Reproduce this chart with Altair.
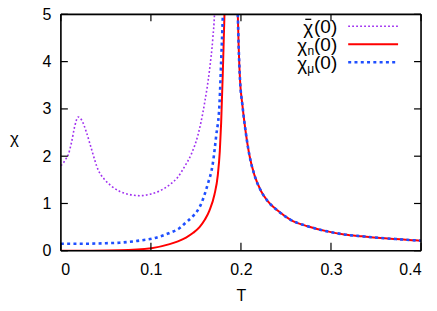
import altair as alt
import pandas as pd

# ---- data ----
T_purple = [0, 0.0026, 0.005, 0.008, 0.0118, 0.0155, 0.0192, 0.0229, 0.0285, 0.034, 0.0414,
            0.048, 0.056, 0.065, 0.076, 0.0875, 0.100, 0.110, 0.121, 0.130, 0.1374, 0.145,
            0.152, 0.1596, 0.165, 0.1688, 0.1706, 0.1715]
chi_purple = [1.80, 1.85, 1.93, 2.02, 2.29, 2.64, 2.83, 2.77, 2.50, 2.15, 1.71,
              1.52, 1.37, 1.26, 1.19, 1.165, 1.20, 1.27, 1.40, 1.56, 1.78, 2.05,
              2.43, 3.12, 3.81, 4.50, 5.00, 5.50]

T_blue_left = [0, 0.03, 0.05, 0.065, 0.085, 0.102, 0.121, 0.132, 0.139, 0.147, 0.154, 0.163,
               0.1688, 0.1725, 0.1762, 0.178, 0.1799, 0.181]
chi_blue_left = [0.15, 0.15, 0.16, 0.17, 0.21, 0.26, 0.38, 0.48, 0.60, 0.74, 0.92, 1.40,
                 1.85, 2.43, 3.12, 4.00, 5.00, 5.80]

T_red_left = [0, 0.03, 0.065, 0.1005, 0.1208, 0.130, 0.139, 0.147, 0.154, 0.160, 0.165,
              0.1706, 0.1743, 0.1765, 0.178, 0.1799, 0.1817, 0.183]
chi_red_left = [0.0, 0.002, 0.01, 0.055, 0.14, 0.20, 0.28, 0.38, 0.50, 0.66, 0.85,
                1.19, 1.60, 2.10, 2.70, 3.80, 5.00, 5.80]

T_right = [0.1955, 0.1965, 0.1975, 0.199, 0.2015, 0.2039, 0.2094, 0.215, 0.2224, 0.2297,
           0.2408, 0.2556, 0.274, 0.296, 0.3147, 0.335, 0.355, 0.372, 0.390, 0.400]
chi_right = [5.80, 5.00, 4.30, 3.60, 3.10, 2.71, 2.02, 1.60, 1.26, 1.05,
             0.85, 0.65, 0.52, 0.41, 0.345, 0.305, 0.27, 0.248, 0.225, 0.213]

x_ticks = [0, 0.1, 0.2, 0.3, 0.4]
y_ticks = [0, 1, 2, 3, 4, 5]

PURPLE = "#a030f0"
RED = "#ff0000"
BLUE = "#1f4fff"
FONT = "Liberation Sans"

W, H = 361, 237

def seg(T, c, name):
    return pd.DataFrame({"T": T, "chi": c, "seg": name})

purple_df = seg(T_purple, chi_purple, "p")
red_df = pd.concat([seg(T_red_left, chi_red_left, "L"), seg(T_right, chi_right, "R")])
blue_df = pd.concat([seg(T_blue_left, chi_blue_left, "L"), seg(T_right, chi_right, "R")])

xscale = alt.Scale(domain=[0, 0.4], nice=False, zero=False)
yscale = alt.Scale(domain=[0, 5], nice=False, zero=False)

xaxis = alt.Axis(values=x_ticks, ticks=False, domain=False, grid=False,
                 labelFontSize=16, labelFont=FONT, labelColor="black", labelPadding=11,
                 title="T", titleFontSize=16, titleFont=FONT, titleFontWeight="normal",
                 titleColor="black", titlePadding=10,
                 labelExpr="datum.value == 0 ? '0' : format(datum.value, '.1f')")
yaxis = alt.Axis(values=y_ticks, format="d", ticks=False, domain=False, grid=False,
                 labelFontSize=16, labelFont=FONT, labelColor="black", labelPadding=10,
                 title="χ", titleFontSize=17, titleFont=FONT, titleFontWeight="normal",
                 titleColor="black", titleAngle=0, titleAlign="center", titleBaseline="middle",
                 titleX=-47, titleY=124)

X = alt.X("T:Q", scale=xscale, axis=xaxis)
Y = alt.Y("chi:Q", scale=yscale, axis=yaxis)

def line(df, color, width, dash=None):
    kw = dict(color=color, strokeWidth=width, clip=True, interpolate="monotone")
    if dash:
        kw["strokeDash"] = dash
    return alt.Chart(df).mark_line(**kw).encode(x=X, y=Y, detail="seg:N")

purple = line(purple_df, PURPLE, 1.6, [1.8, 2.2])
red = line(red_df, RED, 2)
blue = line(blue_df, BLUE, 2.6, [3, 3.3])

xt = pd.DataFrame({"T": x_ticks})
yt = pd.DataFrame({"chi": y_ticks})
tick_kw = dict(color="black", strokeWidth=1.2)
tb = alt.Chart(xt).mark_rule(**tick_kw).encode(x=X, y=alt.value(H), y2=alt.value(H - 8))
tt = alt.Chart(xt).mark_rule(**tick_kw).encode(x=X, y=alt.value(0), y2=alt.value(7))
tl = alt.Chart(yt).mark_rule(**tick_kw).encode(y=Y, x=alt.value(0), x2=alt.value(7))
tr = alt.Chart(yt).mark_rule(**tick_kw).encode(y=Y, x=alt.value(W), x2=alt.value(W - 7))

one = pd.DataFrame({"a": [0]})
frame_kw = dict(color="black", strokeWidth=1.6)
frame = [
    alt.Chart(one).mark_rule(**frame_kw).encode(x=alt.value(0), x2=alt.value(W), y=alt.value(0)),
    alt.Chart(one).mark_rule(**frame_kw).encode(x=alt.value(0), x2=alt.value(W), y=alt.value(H)),
    alt.Chart(one).mark_rule(**frame_kw).encode(x=alt.value(0), y=alt.value(0), y2=alt.value(H)),
    alt.Chart(one).mark_rule(**frame_kw).encode(x=alt.value(W), y=alt.value(0), y2=alt.value(H)),
]

# ---- legend (drawn by hand to allow subscripts) ----
leg_rows = [12, 30, 48]
leg_colors = [PURPLE, RED, BLUE]
leg_widths = [1.6, 2, 2.6]
leg_dash = [[1.8, 2.2], [1, 0], [3, 3.3]]
leg_sub = ["", "n", "μ"]

legend_layers = []
for i in range(3):
    yy = leg_rows[i]
    legend_layers.append(
        alt.Chart(one).mark_rule(color=leg_colors[i], strokeWidth=leg_widths[i],
                                 strokeDash=leg_dash[i]).encode(
            x=alt.value(288), x2=alt.value(338), y=alt.value(yy)))
    legend_layers.append(
        alt.Chart(one).mark_text(text="(0)", align="right", baseline="middle", fontSize=19,
                                 font=FONT, color="black").encode(
            x=alt.value(277), y=alt.value(yy + 1)))
    if leg_sub[i]:
        legend_layers.append(
            alt.Chart(one).mark_text(text=leg_sub[i], align="right", baseline="middle",
                                     fontSize=12, font=FONT, color="black").encode(
                x=alt.value(254), y=alt.value(yy + 7)))
        xr = 247
    else:
        xr = 253
    legend_layers.append(
        alt.Chart(one).mark_text(text="χ", align="right", baseline="middle",
                                 fontSize=19, font=FONT, color="black").encode(
            x=alt.value(xr), y=alt.value(yy + 2)))
    if i == 0:
        legend_layers.append(
            alt.Chart(one).mark_rule(color="black", strokeWidth=1.3).encode(
                x=alt.value(xr - 8), x2=alt.value(xr - 2), y=alt.value(yy - 7)))

chart = alt.layer(purple, red, blue, tb, tt, tl, tr, *frame, *legend_layers).properties(
    width=W, height=H,
    autosize=alt.AutoSizeParams(type="none"),
    padding={"left": 53, "top": 6, "right": 8, "bottom": 52},
).configure_view(stroke=None).configure(background="white")

chart.save("out.html", embed_options={"renderer": "svg", "actions": False})
